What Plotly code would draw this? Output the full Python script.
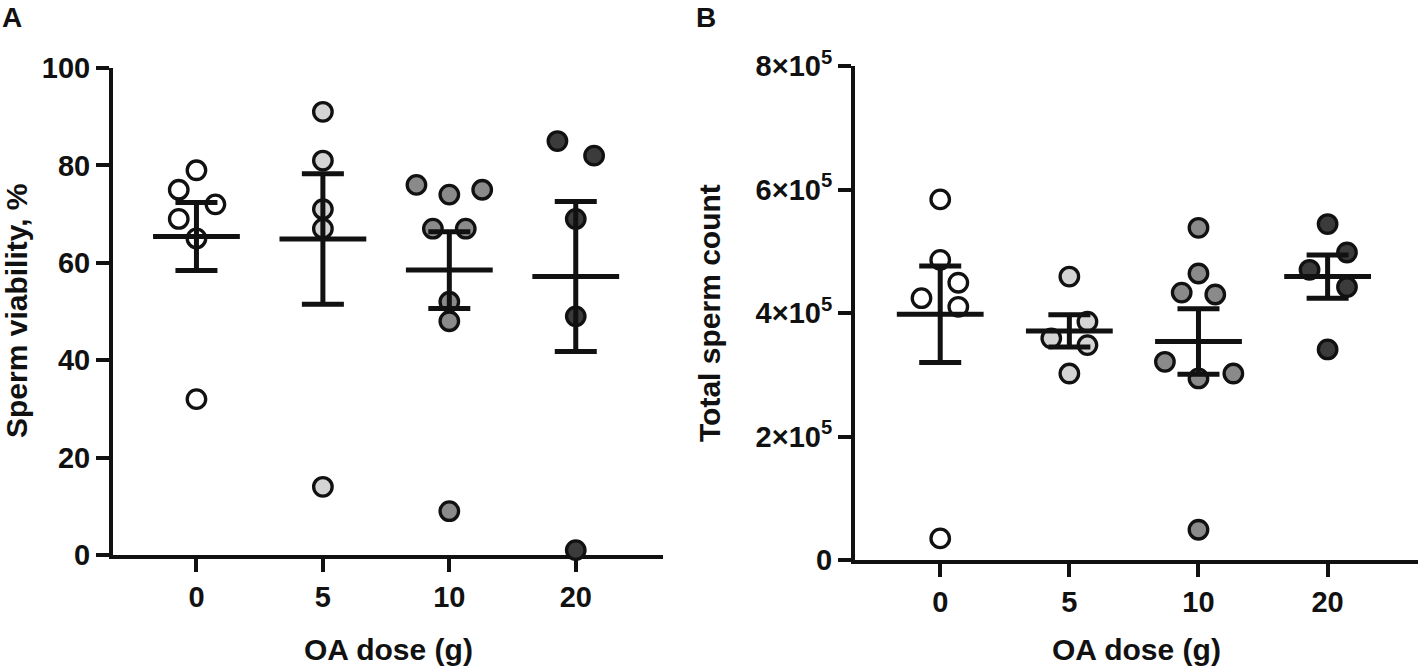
import plotly.graph_objects as go

# OA dose groups
doses = ["0", "5", "10", "20"]

# Panel A: sperm viability (%) per animal
via_0 = [79, 75, 72, 69, 65, 32]
via_5 = [91, 81, 71, 67, 14]
via_10 = [76, 74, 75, 67, 67, 52, 48, 9]
via_20 = [85, 82, 69, 49, 1]
via_mean = [65.4, 64.9, 58.5, 57.2]
via_sem = [7.0, 13.4, 7.9, 15.4]

# Panel B: total sperm count per animal
cnt_0 = [584000, 486000, 449000, 424000, 410000, 35000]
cnt_5 = [459000, 386000, 359000, 348000, 302000]
cnt_10 = [538000, 464000, 433000, 430000, 321000, 302000, 294000, 49000]
cnt_20 = [544000, 498000, 470000, 442000, 341000]
cnt_mean = [398000, 371000, 354000, 459000]
cnt_sem = [78000, 26000, 53000, 35000]

cnt_ticks = [0, 200000, 400000, 600000, 800000]
cnt_ticktext = ["0", "2×10<sup>5</sup>", "4×10<sup>5</sup>", "6×10<sup>5</sup>", "8×10<sup>5</sup>"]

# horizontal scatter of overlapping points (category units)
via_jit = [[0, -0.14, 0.15, -0.14, 0, 0],
           [0, 0, 0, 0, 0],
           [-0.26, 0, 0.26, -0.13, 0.13, 0, 0, 0],
           [-0.145, 0.145, 0, 0, 0]]
cnt_jit = [[0, 0, 0.14, -0.145, 0.14, 0],
           [0, 0.14, -0.14, 0.14, 0],
           [0, 0, -0.13, 0.13, -0.26, 0.27, 0, 0],
           [0, 0.15, -0.14, 0.15, 0]]

fills = ["#ffffff", "#d4d4d4", "#8a8a8a", "#3b3b3b"]

W, H = 1418, 666
FONT = "Liberation Sans, Arial, sans-serif"


def px(x):
    return x / W


def py(y):
    return 1 - y / H


fig = go.Figure()

for groups, jit, xa, ya in [([via_0, via_5, via_10, via_20], via_jit, "x", "y"),
                            ([cnt_0, cnt_5, cnt_10, cnt_20], cnt_jit, "x2", "y2")]:
    for i, vals in enumerate(groups):
        fig.add_trace(go.Scatter(
            x=[i + j for j in jit[i]], y=vals, mode="markers",
            marker=dict(size=18.5, color=fills[i], line=dict(color="#111111", width=3.3)),
            cliponaxis=False, showlegend=False, xaxis=xa, yaxis=ya))

for means, sems, xa, ya in [(via_mean, via_sem, "x", "y"), (cnt_mean, cnt_sem, "x2", "y2")]:
    fig.add_trace(go.Scatter(
        x=list(range(len(doses))), y=means, mode="markers",
        marker=dict(symbol="line-ew", size=62, color="#111111",
                    line=dict(color="#111111", width=5)),
        error_y=dict(type="data", array=sems, visible=True, color="#111111",
                     thickness=5, width=21),
        cliponaxis=False, showlegend=False, xaxis=xa, yaxis=ya))

axis_common = dict(showline=True, linewidth=4, linecolor="#111111", ticks="outside",
                   ticklen=13, tickwidth=3.5, tickcolor="#111111", showgrid=False,
                   zeroline=False, layer="below traces", automargin=False,
                   tickfont=dict(family=FONT, size=29, color="#111111", weight="bold"))

fig.update_layout(
    width=W, height=H, autosize=False,
    margin=dict(l=0, r=0, t=0, b=0),
    plot_bgcolor="white", paper_bgcolor="white",
    xaxis=dict(domain=[px(113), px(663)], range=[-0.66, 3.69], anchor="y",
               tickvals=[0, 1, 2, 3], ticktext=doses, **axis_common),
    yaxis=dict(domain=[py(555), py(68)], range=[0, 100], anchor="x",
               tickvals=[0, 20, 40, 60, 80, 100], **axis_common),
    xaxis2=dict(domain=[px(855), 1.0], range=[-0.66, 3.7], anchor="y2",
                tickvals=[0, 1, 2, 3], ticktext=doses, **axis_common),
    yaxis2=dict(domain=[py(560), py(66)], range=[0, 800000], anchor="x2",
                tickvals=cnt_ticks, ticktext=cnt_ticktext, **axis_common),
)

title_font = dict(family=FONT, size=30, color="#111111", weight="bold")
letter_font = dict(family=FONT, size=28, color="#111111", weight="bold")

annotations = [
    dict(text="A", x=px(0), y=py(0), xanchor="left", yanchor="top", font=letter_font),
    dict(text="B", x=px(694), y=py(0), xanchor="left", yanchor="top", font=letter_font),
    dict(text="Sperm viability, %", x=px(16), y=py(311), textangle=-90,
         xanchor="center", yanchor="middle", font=title_font),
    dict(text="Total sperm count", x=px(709), y=py(313), textangle=-90,
         xanchor="center", yanchor="middle", font=title_font),
    dict(text="OA dose (g)", x=px(388), y=py(668), xanchor="center", yanchor="bottom",
         font=title_font),
    dict(text="OA dose (g)", x=px(1136), y=py(668), xanchor="center", yanchor="bottom",
         font=title_font),
]
for a in annotations:
    a.update(xref="paper", yref="paper", showarrow=False)
fig.update_layout(annotations=annotations)

fig.write_html("out.html", config={"displayModeBar": False},
               post_script="document.body.style.margin='0';")
